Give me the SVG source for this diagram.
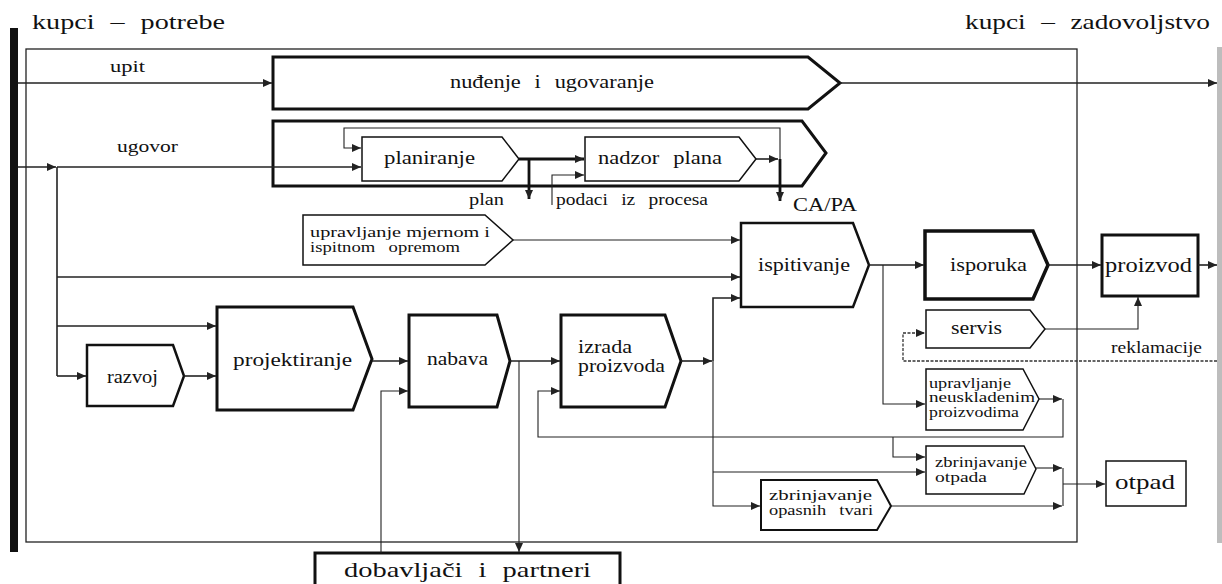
<svg xmlns="http://www.w3.org/2000/svg" width="1222" height="584" viewBox="0 0 1222 584">
<defs>
<marker id="arr" markerUnits="userSpaceOnUse" markerWidth="10" markerHeight="8" refX="9" refY="4" orient="auto"><path d="M0,0 L9,4 L0,8 z" fill="#222"/></marker>
<style>
text{font-family:"Liberation Serif","Times New Roman",serif;fill:#111}
.ws{word-spacing:7px}
.box{fill:#fff;stroke:#111;stroke-linejoin:miter}
.c{fill:none;stroke:#222;stroke-width:1.6}
.t{fill:none;stroke:#222;stroke-width:1.1}
.k{fill:none;stroke:#111;stroke-width:2.8}
.a{marker-end:url(#arr)}
.d{fill:none;stroke:#333;stroke-width:1.3;stroke-dasharray:3 1.5}
</style>
</defs>
<rect x="0" y="0" width="1222" height="584" fill="#fff"/>
<g id="labels">
<text class="ws" x="32" y="29" font-size="22" textLength="193" lengthAdjust="spacingAndGlyphs">kupci – potrebe</text>
<text class="ws" x="965" y="29" font-size="22" textLength="245" lengthAdjust="spacingAndGlyphs">kupci – zadovoljstvo</text>
<text x="110" y="72" font-size="17" textLength="35" lengthAdjust="spacingAndGlyphs">upit</text>
<text x="117" y="152" font-size="17" textLength="61" lengthAdjust="spacingAndGlyphs">ugovor</text>
<text x="469" y="205" font-size="16" textLength="35" lengthAdjust="spacingAndGlyphs">plan</text>
<text class="ws" x="556" y="205" font-size="16" textLength="152" lengthAdjust="spacingAndGlyphs">podaci iz procesa</text>
<text x="793" y="211" font-size="18" textLength="64" lengthAdjust="spacingAndGlyphs">CA/PA</text>
<text x="1111" y="353" font-size="16" textLength="91" lengthAdjust="spacingAndGlyphs">reklamacije</text>
</g>
<g id="bar-left"><rect x="10" y="28" width="8" height="524" fill="#111"/></g>
<g id="bar-right"><rect x="1217" y="47" width="5" height="496" fill="#bdbdbd"/></g>
<g id="frame"><rect x="26" y="49" width="1051" height="493" fill="none" stroke="#222" stroke-width="1.3"/></g>
<g id="nudjenje">
<polygon class="box" stroke-width="3" points="273,57 808,57 840,83 808,109 273,109"/>
<text class="ws" x="450" y="88" font-size="19" textLength="204" lengthAdjust="spacingAndGlyphs">nuđenje i ugovaranje</text>
</g>
<g id="planski-okvir">
<polygon class="box" stroke-width="3" points="273,121 802,121 826,153 802,186 273,186"/>
</g>
<g id="planiranje">
<polygon class="box" stroke-width="1.5" points="362,137 502,137 519,159 502,181 362,181"/>
<text x="384" y="164" font-size="19" textLength="91" lengthAdjust="spacingAndGlyphs">planiranje</text>
</g>
<g id="nadzor-plana">
<polygon class="box" stroke-width="1.5" points="585,137 739,137 756,159 739,181 585,181"/>
<text class="ws" x="598" y="164" font-size="19" textLength="124" lengthAdjust="spacingAndGlyphs">nadzor plana</text>
</g>
<g id="upravljanje-opremom">
<polygon class="box" stroke-width="1.5" points="303,215 485,215 513,240 485,265 303,265"/>
<text x="310" y="237" font-size="15" textLength="180" lengthAdjust="spacingAndGlyphs">upravljanje mjernom i</text>
<text class="ws" x="310" y="252" font-size="15" textLength="150" lengthAdjust="spacingAndGlyphs">ispitnom opremom</text>
</g>
<g id="ispitivanje">
<polygon class="box" stroke-width="2.5" points="741,223 853,223 869,265 853,307 741,307"/>
<text x="758" y="271" font-size="19" textLength="92" lengthAdjust="spacingAndGlyphs">ispitivanje</text>
</g>
<g id="isporuka">
<polygon class="box" stroke-width="3.5" points="925,231 1033,231 1048,265 1033,299 925,299"/>
<text x="950" y="271" font-size="19" textLength="77" lengthAdjust="spacingAndGlyphs">isporuka</text>
</g>
<g id="proizvod">
<rect class="box" stroke-width="3" x="1102" y="235" width="96" height="61"/>
<text x="1105" y="272" font-size="22" textLength="87" lengthAdjust="spacingAndGlyphs">proizvod</text>
</g>
<g id="servis">
<polygon class="box" stroke-width="1.5" points="926,310 1030,310 1045,329 1030,348 926,348"/>
<text x="951" y="334" font-size="19" textLength="51" lengthAdjust="spacingAndGlyphs">servis</text>
</g>
<g id="neuskladeni">
<polygon class="box" stroke-width="1.5" points="926,369 1023,369 1039,399 1023,430 926,430"/>
<text x="929" y="388" font-size="15" textLength="82" lengthAdjust="spacingAndGlyphs">upravljanje</text>
<text x="929" y="402" font-size="15" textLength="106" lengthAdjust="spacingAndGlyphs">neuskladenim</text>
<text x="929" y="417" font-size="15" textLength="90" lengthAdjust="spacingAndGlyphs">proizvodima</text>
</g>
<g id="zbrinjavanje-otpada">
<polygon class="box" stroke-width="1.5" points="926,446 1024,446 1036,469 1024,494 926,494"/>
<text x="935" y="467" font-size="15" textLength="92" lengthAdjust="spacingAndGlyphs">zbrinjavanje</text>
<text x="935" y="482" font-size="15" textLength="52" lengthAdjust="spacingAndGlyphs">otpada</text>
</g>
<g id="zbrinjavanje-opasnih">
<polygon class="box" stroke-width="2" points="761,480 877,480 891,506 877,530 761,530"/>
<text x="769" y="500" font-size="15" textLength="103" lengthAdjust="spacingAndGlyphs">zbrinjavanje</text>
<text class="ws" x="769" y="515" font-size="15" textLength="104" lengthAdjust="spacingAndGlyphs">opasnih tvari</text>
</g>
<g id="otpad">
<rect class="box" stroke-width="1.5" x="1106" y="461" width="80" height="45"/>
<text x="1115" y="489" font-size="22" textLength="60" lengthAdjust="spacingAndGlyphs">otpad</text>
</g>
<g id="razvoj">
<polygon class="box" stroke-width="2.5" points="87,345 173,345 184,376 173,406 87,406"/>
<text x="107" y="383" font-size="18" textLength="51" lengthAdjust="spacingAndGlyphs">razvoj</text>
</g>
<g id="projektiranje">
<polygon class="box" stroke-width="3" points="217,307 353,307 372,359 353,410 217,410"/>
<text x="233" y="366" font-size="19" textLength="119" lengthAdjust="spacingAndGlyphs">projektiranje</text>
</g>
<g id="nabava">
<polygon class="box" stroke-width="3" points="409,315 497,315 510,361 497,407 409,407"/>
<text x="427" y="365" font-size="19" textLength="61" lengthAdjust="spacingAndGlyphs">nabava</text>
</g>
<g id="izrada">
<polygon class="box" stroke-width="3" points="561,315 665,315 681,361 665,407 561,407"/>
<text x="578" y="353" font-size="19" textLength="54" lengthAdjust="spacingAndGlyphs">izrada</text>
<text x="578" y="372" font-size="19" textLength="87" lengthAdjust="spacingAndGlyphs">proizvoda</text>
</g>
<g id="dobavljaci">
<rect class="box" stroke-width="3" x="315" y="553" width="305" height="40"/>
<text class="ws" x="344" y="577" font-size="22" textLength="247" lengthAdjust="spacingAndGlyphs">dobavljači i partneri</text>
</g>
<g id="connectors">
<path class="c a" d="M18,83 H272"/>
<path class="c a" d="M840,83 H1217"/>
<path class="c a" d="M18,167 H56"/>
<path class="c a" d="M57,167 H361"/>
<path class="c" d="M57,167 V376"/>
<path class="c a" d="M57,277 H740"/>
<path class="c a" d="M57,326 H216"/>
<path class="c a" d="M57,376 H86"/>
<path class="c a" d="M184,376 H216"/>
<path class="c a" d="M372,361 H408"/>
<path class="c a" d="M510,361 H560"/>
<path class="t a" d="M519,361 V552"/>
<path class="t a" d="M381,553 V391 H408"/>
<path class="c a" d="M681,361 H712"/>
<path class="c a" d="M713,361 V298 H740"/>
<path class="t a" d="M713,361 V506 H760"/>
<path class="t a" d="M713,472 H925"/>
<path class="t a" d="M513,240 H740"/>
<path class="c a" d="M869,265 H924"/>
<path class="t a" d="M883,265 V404 H925"/>
<path class="c a" d="M1048,265 H1101"/>
<path class="c a" d="M1198,265 H1217"/>
<path class="t a" d="M1045,329 H1138 V297"/>
<path class="d a" d="M1217,361 H903 V333 H925"/>
<path class="t a" d="M1039,399 H1062"/>
<path class="t a" d="M1063,399 V437 H538 V391 H560"/>
<path class="t a" d="M893,437 V457 H925"/>
<path class="t a" d="M1036,468 H1062"/>
<path class="t a" d="M891,506 H1062"/>
<path class="t" d="M1063,468 V506"/>
<path class="t a" d="M1063,484 H1105"/>
<path class="k a" d="M519,159 H584"/>
<path class="k a" d="M529,159 V199"/>
<path class="t a" d="M552,205 V175 H584"/>
<path class="c a" d="M756,159 H778"/>
<path class="t a" d="M780,159 V128 H344 V148 H361"/>
<path class="k a" d="M780,159 V201"/>
</g>
</svg>
